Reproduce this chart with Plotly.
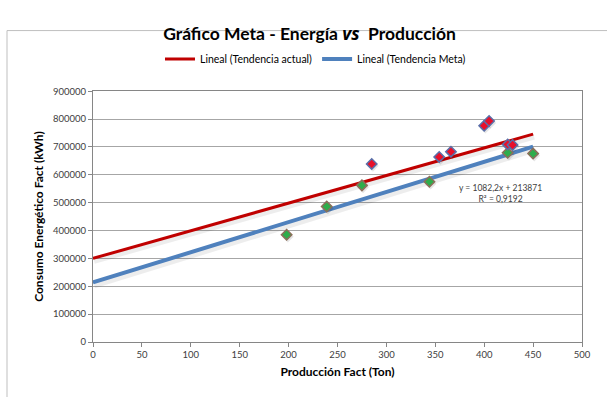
import plotly.graph_objects as go

# Production (Ton) and energy consumption (kWh) readings
prod_actual = [285, 354, 366, 400, 405, 424, 429]
cons_actual = [639000, 664000, 683000, 776000, 793000, 709000, 707000]

prod_meta = [198, 239, 275, 344, 424, 450]
cons_meta = [385000, 486000, 562000, 575000, 679000, 676000]

# Linear trend coefficients: y = slope * x + intercept
trend_actual = {"slope": 991.0, "intercept": 300000.0}
trend_meta = {"slope": 1082.2, "intercept": 213871.0}
trend_range = [0, 450]
r2_meta = 0.9192

x_ticks = list(range(0, 501, 50))
y_ticks = list(range(0, 900001, 100000))

FONT = "Lato"
RED = "#C00000"
BLUE = "#4F81BD"


def line_pts(coef):
    xs = list(trend_range)
    ys = [coef["slope"] * x + coef["intercept"] for x in xs]
    return xs, ys


fig = go.Figure()

# soft drop shadows beneath the trend lines
for coef, w in ((trend_actual, 3), (trend_meta, 4)):
    xs, ys = line_pts(coef)
    fig.add_trace(go.Scatter(
        x=[x + 1.0 for x in xs], y=[y - 9000 for y in ys], mode="lines",
        line=dict(color="rgba(0,0,0,0.07)", width=w + 3),
        showlegend=False, hoverinfo="skip"))

xs, ys = line_pts(trend_actual)
fig.add_trace(go.Scatter(x=xs, y=ys, mode="lines", name="Lineal (Tendencia actual)",
                         line=dict(color=RED, width=3)))
xs, ys = line_pts(trend_meta)
fig.add_trace(go.Scatter(x=xs, y=ys, mode="lines", name="Lineal (Tendencia Meta)",
                         line=dict(color=BLUE, width=4)))

# marker shadows
fig.add_trace(go.Scatter(
    x=[x + 1.2 for x in prod_actual + prod_meta],
    y=[y - 7000 for y in cons_actual + cons_meta], mode="markers",
    marker=dict(symbol="diamond", size=9, color="rgba(0,0,0,0.10)", line=dict(width=0)),
    showlegend=False, hoverinfo="skip"))

fig.add_trace(go.Scatter(x=prod_meta, y=cons_meta, mode="markers", showlegend=False,
                         marker=dict(symbol="diamond", size=8, color="#2EAD4B",
                                     line=dict(color="#8C6E5A", width=1.5))))
fig.add_trace(go.Scatter(x=prod_actual, y=cons_actual, mode="markers", showlegend=False,
                         marker=dict(symbol="diamond", size=8, color="#E8102A",
                                     line=dict(color="#5A6EA8", width=1.5))))

eq_text = "y = {:.1f}x + {:.0f}".format(trend_meta["slope"], trend_meta["intercept"]).replace(".", ",")
r2_text = "R² = {:.4f}".format(r2_meta).replace(".", ",")

fig.add_annotation(x=417, y=532000, xref="x", yref="y", text=eq_text + "<br>" + r2_text,
                   showarrow=False, align="center",
                   font=dict(family=FONT, size=8.5, color="#404040"))

# chart area frame
fig.add_shape(type="rect", xref="paper", yref="paper",
              x0=(7 - 93) / 489, x1=(640 - 93) / 489,
              y0=(342 - 430) / 269, y1=(342 - 8) / 269,
              line=dict(color="#BFBFBF", width=1), layer="below")

axis_common = dict(showline=True, linecolor="#868686", linewidth=1, mirror=True,
                   ticks="outside", ticklen=4, tickcolor="#868686",
                   tickfont=dict(family=FONT, size=9.5, color="#404040"), zeroline=False)

title_text = ("<b>Gráfico Meta - Energía "
              "<span style=\"font-family:Noto Sans;font-style:italic\">vs</span>"
              "  Producción</b>")

fig.update_layout(
    width=607, height=397,
    margin=dict(l=93, r=25, t=73, b=55),
    paper_bgcolor="white", plot_bgcolor="white",
    title=dict(text=title_text,
               x=0.51, xanchor="center", y=1 - 34 / 397, yanchor="middle",
               font=dict(family=FONT, size=17.5, color="#000000")),
    legend=dict(orientation="h", x=0.455, xanchor="center", y=1 - 59 / 397, yref="container",
                yanchor="middle", font=dict(family=FONT, size=10.5, color="#000000"),
                itemwidth=30, tracegroupgap=0, bgcolor="rgba(0,0,0,0)"),
    xaxis=dict(range=[0, 500], tickvals=x_ticks, showgrid=False,
               title=dict(text="<b>Producción Fact (Ton)</b>", standoff=8,
                          font=dict(family=FONT, size=12, color="#000000")),
               **axis_common),
    yaxis=dict(range=[0, 900000], tickvals=y_ticks, showgrid=True, gridcolor="#A6A6A6",
               gridwidth=1, tickformat="d",
               title=dict(text="<b>Consumo Energético Fact (kWh)</b>", standoff=6,
                          font=dict(family=FONT, size=12, color="#000000")),
               **axis_common),
)

fig.write_html("out.html")
